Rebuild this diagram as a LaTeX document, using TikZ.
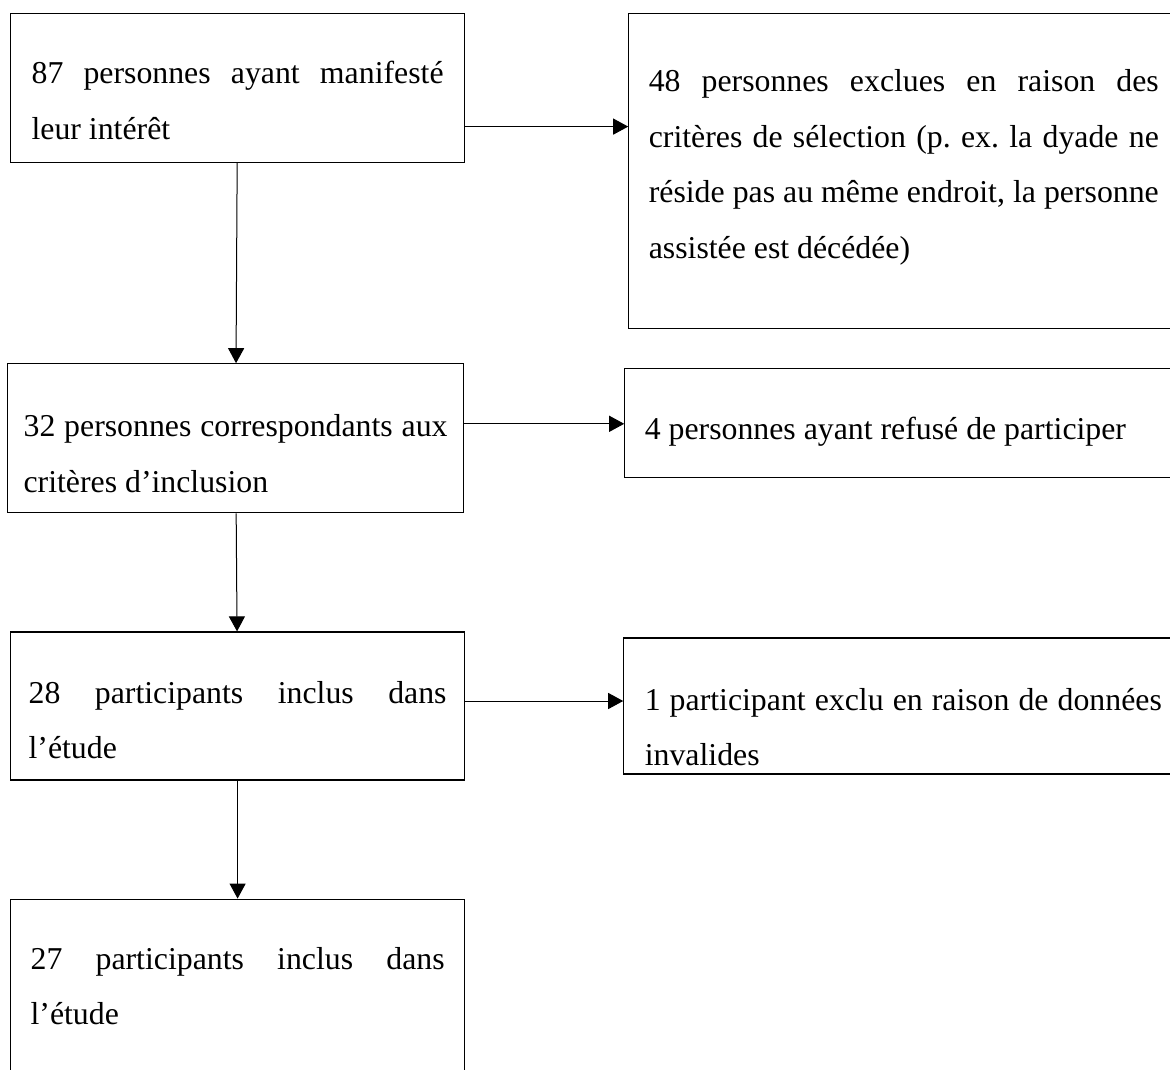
\documentclass[tikz,border=0pt]{standalone}
\usepackage{fontspec}
\setmainfont{Liberation Serif}
\usetikzlibrary{positioning,arrows.meta}
\hyphenpenalty=10000
\tolerance=10000
\frenchspacing
\begin{document}
\begin{tikzpicture}[
        boite/.style={draw, line width=0.6pt, rectangle, anchor=north west, inner ysep=0pt,
            align=justify, font=\fontsize{15.9pt}{27.8pt}\selectfont},
        fleche/.style={-{Triangle[length=7.5pt,width=8pt]}, line width=0.5pt}
    ]
        \useasboundingbox (0,0) rectangle (585pt,-534.5pt);
        \clip (0,0) rectangle (585pt,-534.5pt);
        \node[boite, inner xsep=10.5pt, text width=206pt, text height=35pt, text depth=39.5pt]
            (interet) at (5pt,-6.5pt) {87 personnes ayant manifesté\linebreak leur intérêt};
        \node[boite, right=81.5pt of interet.north east, anchor=north west,
            inner xsep=10pt, text width=255pt, text height=39pt, text depth=118.5pt]
            (exclus) {48 personnes exclues en raison des\linebreak critères de sélection (p. ex. la dyade ne\linebreak réside pas au même endroit, la personne\linebreak assistée est décédée)};
        \node[boite, below=100pt of interet.south west, anchor=north west, xshift=-1.5pt,
            inner xsep=8pt, text width=212pt, text height=36.5pt, text depth=38pt]
            (inclusion) {32 personnes correspondants aux\linebreak critères d’inclusion};
        \node[boite, right=80pt of inclusion.north east, anchor=north west, yshift=-2.5pt,
            inner xsep=10pt, text width=255pt, text height=35.5pt, text depth=19pt]
            (refus) {4 personnes ayant refusé de participer};
        \node[boite, below=59pt of inclusion.south west, anchor=north west, xshift=1.5pt,
            inner xsep=9pt, text width=209pt, text height=35.5pt, text depth=38.5pt]
            (inclus) {28 participants inclus dans\linebreak l’étude};
        \node[boite, right=79pt of inclus.north east, anchor=north west, yshift=-3pt,
            inner xsep=10.5pt, text width=258.5pt, text height=36pt, text depth=32pt]
            (invalide) {1 participant exclu en raison de données\linebreak invalides};
        \node[boite, below=59pt of inclus.south west, anchor=north west,
            inner xsep=10pt, text width=207pt, text height=35pt, text depth=100pt]
            (final) {27 participants inclus dans\linebreak l’étude};
        \draw[fleche] ([yshift=-19.25pt]interet.east) -- ([yshift=-19.25pt]interet.east -| exclus.west);
        \draw[fleche] (interet) -- (inclusion);
        \draw[fleche] ([yshift=7.25pt]inclusion.east) -- ([yshift=7.25pt]inclusion.east -| refus.west);
        \draw[fleche] (inclusion) -- (inclus);
        \draw[fleche] ([yshift=2.5pt]inclus.east) -- ([yshift=2.5pt]inclus.east -| invalide.west);
        \draw[fleche] (inclus) -- (final);
    \end{tikzpicture}
\end{document}
